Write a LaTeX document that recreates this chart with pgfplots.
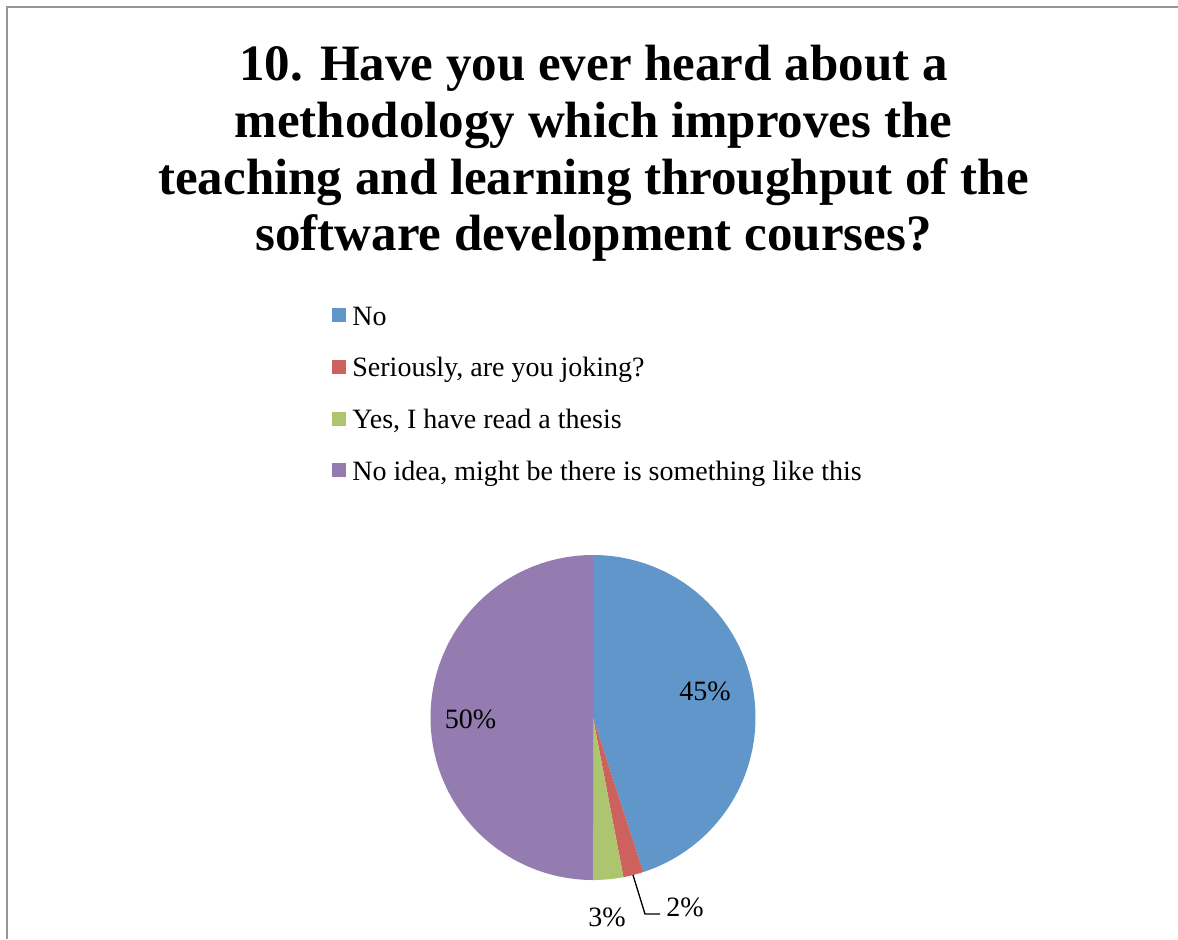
\documentclass[border=0pt]{standalone}
\usepackage{fontspec}
\setmainfont{Liberation Serif}
\usepackage{pgfplots}
\pgfplotsset{compat=1.18}
\usepgfplotslibrary{polar}
\definecolor{cNo}{RGB}{97,150,202}
\definecolor{cJoke}{RGB}{205,97,94}
\definecolor{cThesis}{RGB}{172,197,110}
\definecolor{cIdea}{RGB}{148,123,176}
\definecolor{frame}{RGB}{150,150,150}
% survey shares (percent)
\def\vNo{45}
\def\vJoke{2}
\def\vThesis{3}
\def\vIdea{50}
\pgfmathsetmacro{\aA}{90}
\pgfmathsetmacro{\aB}{\aA-3.6*\vNo}
\pgfmathsetmacro{\aC}{\aB-3.6*\vJoke}
\pgfmathsetmacro{\aD}{\aC-3.6*\vThesis}
\pgfmathsetmacro{\aE}{\aD-3.6*\vIdea}
\begin{document}
\begin{tikzpicture}
\useasboundingbox (0,0) rectangle (589pt,-469.5pt);
\fill[white] (0,0) rectangle (589pt,-469.5pt);
\draw[frame, line width=0.7pt] (3.5pt,-469.5pt) -- (3.5pt,-3.5pt) -- (589pt,-3.5pt);
% title
\begin{scope}[every node/.style={anchor=base, inner sep=0pt, font=\fontsize{25.5}{28}\selectfont\bfseries}]
\node at (296.75pt,-40pt) {10. Have you ever heard about a};
\node at (296.75pt,-68.5pt) {methodology which improves the};
\node at (296.75pt,-97pt) {teaching and learning throughput of the};
\node at (296.75pt,-125pt) {software development courses?};
\end{scope}
% legend
\begin{scope}[every node/.style={anchor=base west, inner sep=0pt, font=\fontsize{14}{16}\selectfont}]
\fill[cNo] (166pt,-154pt) rectangle (173pt,-161pt);
\node at (176pt,-162.5pt) {No};
\fill[cJoke] (166pt,-179.9pt) rectangle (173pt,-186.9pt);
\node at (176pt,-188.4pt) {Seriously, are you joking?};
\fill[cThesis] (166pt,-205.8pt) rectangle (173pt,-212.8pt);
\node at (176pt,-214.3pt) {Yes, I have read a thesis};
\fill[cIdea] (166pt,-231.7pt) rectangle (173pt,-238.7pt);
\node at (176pt,-240.2pt) {No idea, might be there is something like this};
\end{scope}
\begin{polaraxis}[at={(296.5pt,-358.75pt)}, anchor=center, scale only axis,
  width=162.5pt, height=162.5pt, ymin=0, ymax=1, xmin=0, xmax=360,
  hide axis, clip=false]
\addplot[fill=cNo, draw=none, domain=\aB:\aA, samples=150] {1} -- (axis cs:0,0) -- cycle;
\addplot[fill=cJoke, draw=none, domain=\aC:\aB, samples=10] {1} -- (axis cs:0,0) -- cycle;
\addplot[fill=cThesis, draw=none, domain=\aD:\aC, samples=12] {1} -- (axis cs:0,0) -- cycle;
\addplot[fill=cIdea, draw=none, domain=\aE:\aD, samples=160] {1} -- (axis cs:0,0) -- cycle;
\end{polaraxis}
% data labels
\begin{scope}[every node/.style={anchor=base, inner sep=0pt, font=\fontsize{14}{16}\selectfont}]
\node at (352.5pt,-350pt) {45\%};
\node at (235.25pt,-364pt) {50\%};
\node at (303.5pt,-463pt) {3\%};
\node at (342.5pt,-458pt) {2\%};
\end{scope}
\draw[black, line width=0.65pt] (316.5pt,-437.5pt) -- (322.5pt,-457pt) -- (330pt,-457pt);
\end{tikzpicture}
\end{document}
